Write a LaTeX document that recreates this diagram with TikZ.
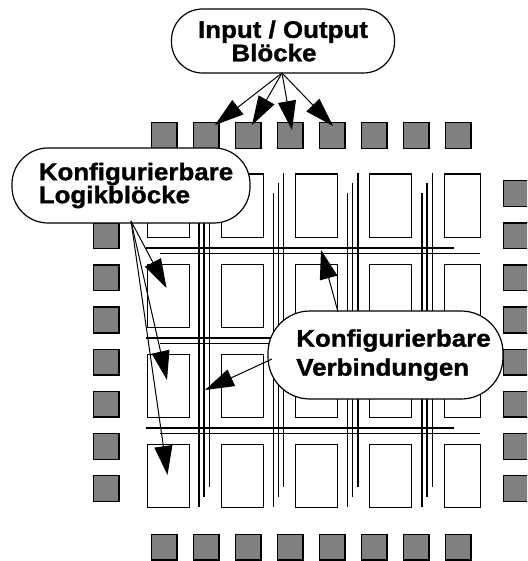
\documentclass[tikz,border=0pt]{standalone}
\usepackage{fontspec}
\setmainfont{Liberation Sans}[FakeStretch=1.08, BoldFeatures={FakeBold=1.2}]
\usetikzlibrary{arrows.meta}
\definecolor{iogray}{RGB}{128,128,128}
\begin{document}
\begin{tikzpicture}[x=1pt,y=-1pt,
  iosq/.style={draw=black, line width=1.4pt, fill=iogray, minimum size=25.7pt, inner sep=0pt, anchor=north west},
  clb/.style={draw=black, line width=1.4pt, fill=white, inner sep=0pt, anchor=north west, minimum width=42pt, minimum height=63pt},
  wire/.style={line width=1.3pt},
  bubble/.style={draw=black, line width=1.2pt, fill=white, inner sep=0pt, font=\bfseries\fontsize{24}{22}\selectfont},
  pointer/.style={line width=1pt, -{Triangle[length=29pt,width=18pt]}}
]
\useasboundingbox (0,0) rectangle (527,561);
\clip (0,0) rectangle (527,561);

% logic blocks
\foreach \j in {0,...,3}{
  \foreach \i in {0,...,3}{
    \node[clb] (c\i\j) at ({146.5+74*\i},{173.5+90*\j}) {};
  }
  \node[clb, minimum width=36.5pt] (c4\j) at (443.5,{173.5+90*\j}) {};
}

% horizontal routing channels
\foreach \j in {0,1,2}{
  \draw[wire] (146,{248+90*\j}) -- (454,{248+90*\j});
  \draw[wire] (160,{253.5+90*\j}) -- (480,{253.5+90*\j});
}
% vertical routing channels
\foreach \i in {0,...,3}{
  \draw[wire] ({199+74.3*\i},193) -- ({199+74.3*\i},507);
  \draw[wire] ({204+74.3*\i},183) -- ({204+74.3*\i},497);
  \draw[wire] ({209.5+74.3*\i},173) -- ({209.5+74.3*\i},487);
}

% I/O blocks
\foreach \i in {0,...,7}{
  \node[iosq] (t\i) at ({150.5+42*\i},122) {};
  \node[iosq] (b\i) at ({150.5+42*\i},533.5) {};
  \node[iosq] (r\i) at (502.5,{180+42.14*\i}) {};
}
\foreach \k in {1,...,7}{
  \node[iosq] (l\k) at (92.5,{180+42.14*\k}) {};
}

% callouts
\node[bubble, rounded corners=31pt, minimum width=223pt, minimum height=64pt, align=center,
      font=\bfseries\fontsize{24}{21.6}\selectfont] (io) at (283,41)
  {Input / Output\\Blöcke\hspace*{18pt}};
\node[bubble, rounded corners=36pt, minimum width=238pt, minimum height=75pt, align=left,
      font=\bfseries\fontsize{24}{23}\selectfont] (lg) at (131,185.5)
  {\hspace*{10pt}Konfigurierbare\\\hspace*{10pt}Logikblöcke};
\node[bubble, rounded corners=42pt, minimum width=235pt, minimum height=88pt, align=left,
      font=\bfseries\fontsize{24}{29}\selectfont] (vb) at (385.5,355)
  {\hspace*{16pt}Konfigurierbare\\\hspace*{16pt}Verbindungen};

% pointer targets
\coordinate (ioS) at (282,73);
\coordinate (p1) at (215,125);
\coordinate (p2) at (252,125);
\coordinate (p3) at (292,130);
\coordinate (p4) at (333,126);
\coordinate (lgS) at (131,221);
\coordinate (q1) at (166.5,288);
\coordinate (q2) at (167,380);
\coordinate (q3) at (167.5,475);
\coordinate (vbA) at (338,312);
\coordinate (vbB) at (272,359);
\coordinate (h1) at (321,250);
\coordinate (w1) at (205,390);

\foreach \p in {p1,p2,p3,p4}{ \draw[pointer] (ioS) -- (\p); }
\foreach \q in {q1,q2,q3}{ \draw[pointer] (lgS) -- (\q); }
\draw[pointer] (vbA) -- (h1);
\draw[pointer] (vbB) -- (w1);
\end{tikzpicture}
\end{document}
